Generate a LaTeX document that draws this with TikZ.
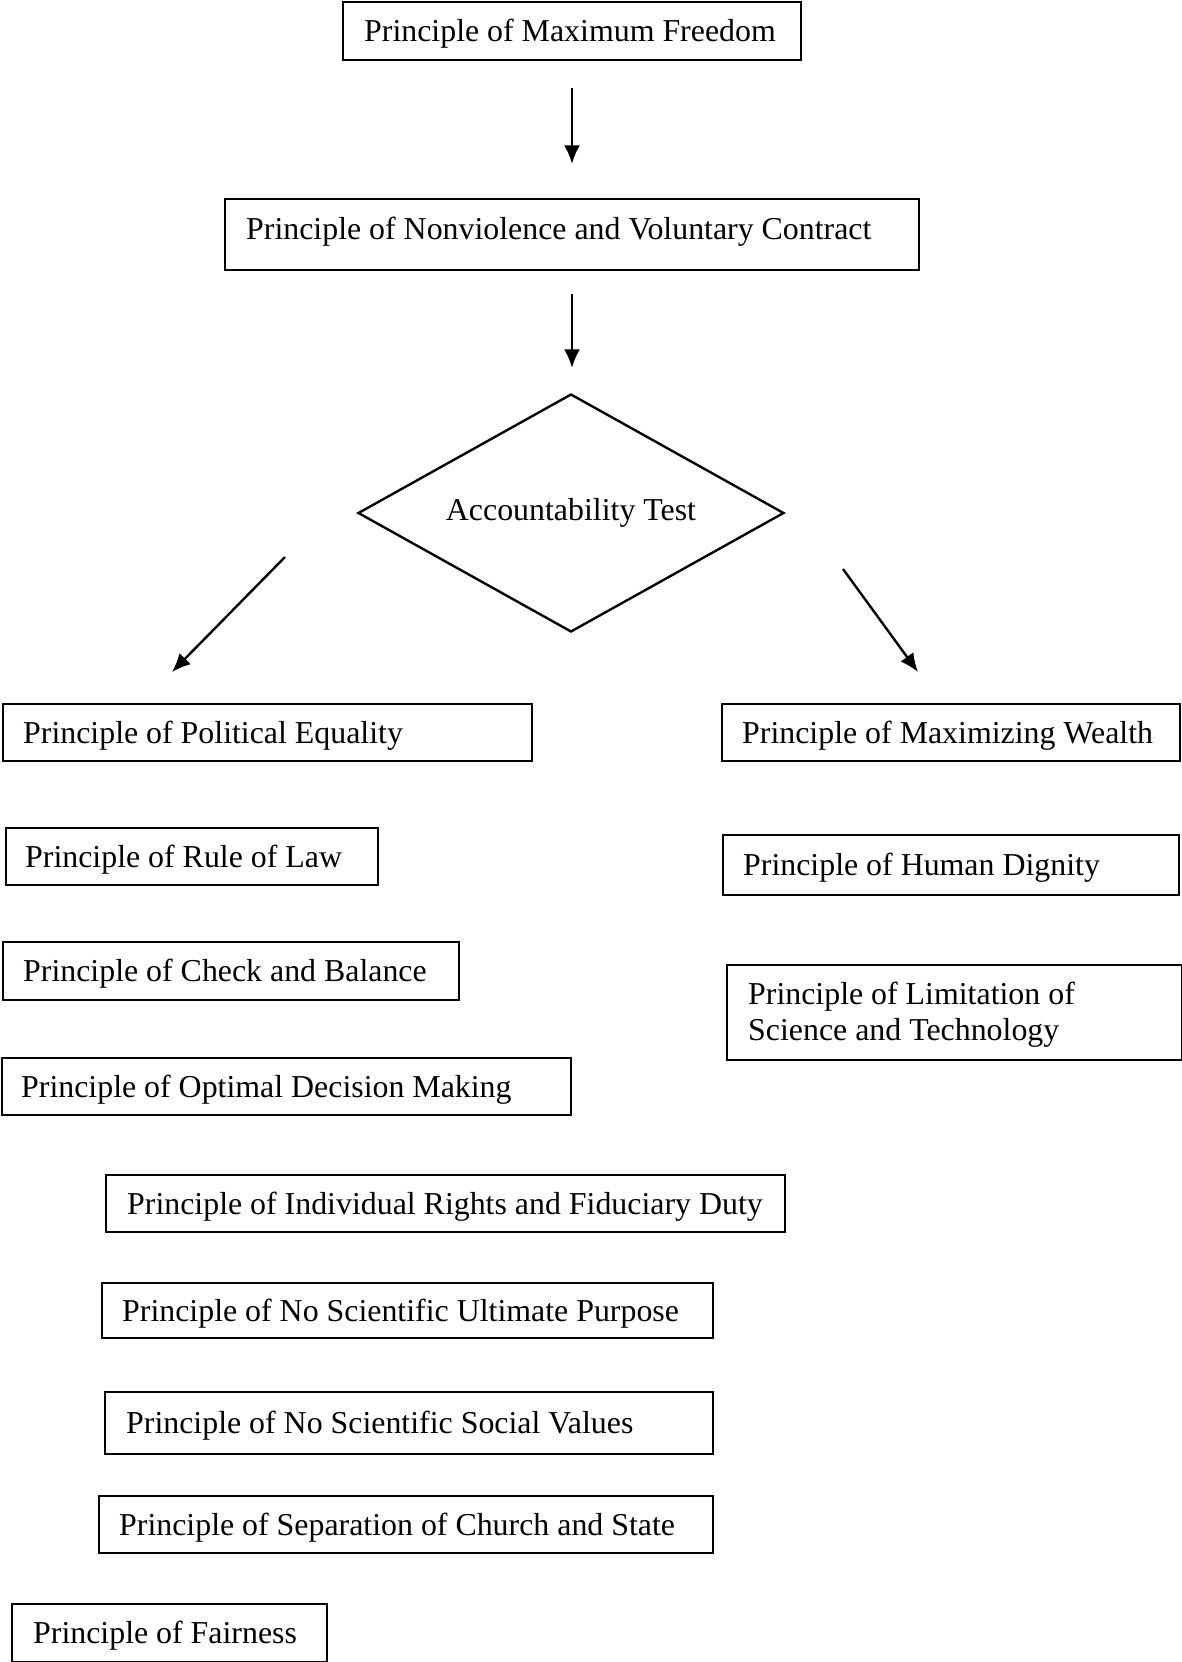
\documentclass[tikz,border=0pt]{standalone}
\usepackage{fontspec}
\setmainfont{Liberation Serif}
\usetikzlibrary{shapes.geometric,arrows.meta}
\newdimen\pxu
\pxu=0.3765pt
\newcommand{\pd}[1]{\hspace*{#1\pxu}}
\begin{document}
\begin{tikzpicture}[x=0.3765pt,y=-0.3765pt,
  box/.style={draw, line width=0.9pt, inner sep=0pt, align=flush left, anchor=north west,
    text height=10pt, text depth=2pt, font=\fontsize{12}{13.6}\selectfont},
  dia/.style={draw, diamond, aspect=2, line width=0.9pt, inner sep=0pt,
    font=\fontsize{12}{13.6}\selectfont},
  arr/.style={line width=0.9pt, -{Latex[length=7pt,width=6pt]}}]
\useasboundingbox (0,0) rectangle (1182,1662);

\node[box, minimum width=458\pxu, minimum height=58\pxu, text width=458\pxu] (max) at (342,1) {\pd{21}Principle of Maximum Freedom};
\node[box, minimum width=694\pxu, minimum height=71\pxu, text width=694\pxu, text depth=6.6pt] (nonv) at (224,198) {\pd{21}Principle of Nonviolence and Voluntary Contract};
\node[dia, minimum width=426\pxu, minimum height=238\pxu] (acc) at (571,513) {Accountability Test};

\node[box, minimum width=529\pxu, minimum height=57\pxu, text width=529\pxu] (pe) at (2,703) {\pd{20}Principle of Political Equality};
\node[box, minimum width=372\pxu, minimum height=57\pxu, text width=372\pxu] (rl) at (5,827) {\pd{19}Principle of Rule of Law};
\node[box, minimum width=456\pxu, minimum height=58\pxu, text width=456\pxu] (cb) at (2,941) {\pd{20}Principle of Check and Balance};
\node[box, minimum width=569\pxu, minimum height=57\pxu, text width=569\pxu] (odm) at (1,1057) {\pd{19}Principle of Optimal Decision Making};
\node[box, minimum width=679\pxu, minimum height=57\pxu, text width=679\pxu] (ir) at (105,1174) {\pd{21}Principle of Individual Rights and Fiduciary Duty};
\node[box, minimum width=611\pxu, minimum height=55\pxu, text width=611\pxu] (nsup) at (101,1282) {\pd{20}Principle of No Scientific Ultimate Purpose};
\node[box, minimum width=608\pxu, minimum height=62\pxu, text width=608\pxu] (nssv) at (104,1391) {\pd{21}Principle of No Scientific Social Values};
\node[box, minimum width=614\pxu, minimum height=57\pxu, text width=614\pxu] (sep) at (98,1495) {\pd{20}Principle of Separation of Church and State};
\node[box, minimum width=315\pxu, minimum height=58\pxu, text width=315\pxu] (fair) at (11,1603) {\pd{21}Principle of Fairness};

\node[box, minimum width=458\pxu, minimum height=57\pxu, text width=458\pxu] (mw) at (721,703) {\pd{20}Principle of Maximizing Wealth};
\node[box, minimum width=456\pxu, minimum height=60\pxu, text width=456\pxu] (hd) at (722,834) {\pd{20}Principle of Human Dignity};
\node[box, minimum width=455\pxu, minimum height=95\pxu, text width=455\pxu, text depth=16.3pt] (lim) at (726,964) {\pd{21}Principle of Limitation of\\\pd{21}Science and Technology};

\coordinate (a1s) at (572,88);
\coordinate (a1e) at (572,164);
\coordinate (a2s) at (572,294);
\coordinate (a2e) at (572,368);
\coordinate (a3s) at (285,557);
\coordinate (a3e) at (172,672);
\coordinate (a4s) at (843,569);
\coordinate (a4e) at (918,672);
\draw[arr] (a1s) -- (a1e);
\draw[arr] (a2s) -- (a2e);
\draw[arr] (a3s) -- (a3e);
\draw[arr] (a4s) -- (a4e);
\end{tikzpicture}
\end{document}
